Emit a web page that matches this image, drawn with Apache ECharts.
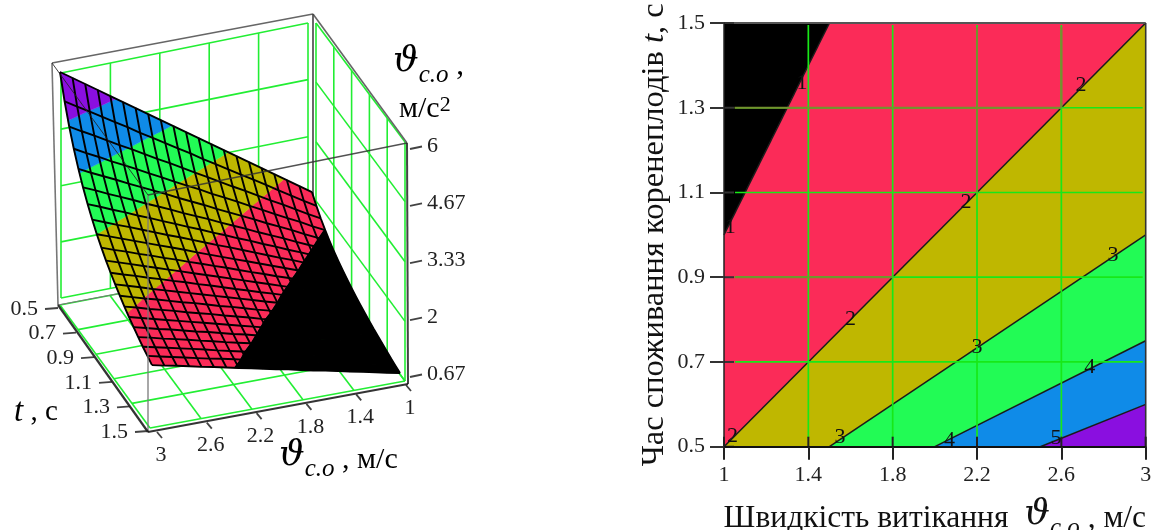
<!DOCTYPE html>
<html><head><meta charset="utf-8">
<style>html,body{margin:0;padding:0;background:#fff}#c{width:1157px;height:530px}</style>
<script src="https://cdn.jsdelivr.net/npm/echarts@6/dist/echarts.min.js"></script>
</head><body><div id="c"></div>
<script>
// ---------- data ----------
const vTicks = [1, 1.4, 1.8, 2.2, 2.6, 3];
const tTicks = [0.5, 0.7, 0.9, 1.1, 1.3, 1.5];
const zTicks = [0.67, 2, 3.33, 4.67, 6];
const bandLevels = [0.6, 1.56, 2.44, 3.33, 4.22, 5.11, 6.01];
const meshV = [1,1.1,1.2,1.3,1.4,1.5,1.6,1.7,1.8,1.9,2,2.1,2.2,2.3,2.4,2.5,2.6,2.7,2.8,2.9,3];
const meshT = [0.5,0.55,0.6,0.65,0.7,0.75,0.8,0.85,0.9,0.95,1,1.05,1.1,1.15,1.2,1.25,1.3,1.35,1.4,1.45,1.5];
const meshZ = [
[2.00,2.20,2.40,2.60,2.80,3.00,3.20,3.40,3.60,3.80,4.00,4.20,4.40,4.60,4.80,5.00,5.20,5.40,5.60,5.80,6.00],
[1.82,2.00,2.18,2.36,2.55,2.73,2.91,3.09,3.27,3.45,3.64,3.82,4.00,4.18,4.36,4.55,4.73,4.91,5.09,5.27,5.45],
[1.67,1.83,2.00,2.17,2.33,2.50,2.67,2.83,3.00,3.17,3.33,3.50,3.67,3.83,4.00,4.17,4.33,4.50,4.67,4.83,5.00],
[1.54,1.69,1.85,2.00,2.15,2.31,2.46,2.62,2.77,2.92,3.08,3.23,3.38,3.54,3.69,3.85,4.00,4.15,4.31,4.46,4.62],
[1.43,1.57,1.71,1.86,2.00,2.14,2.29,2.43,2.57,2.71,2.86,3.00,3.14,3.29,3.43,3.57,3.71,3.86,4.00,4.14,4.29],
[1.33,1.47,1.60,1.73,1.87,2.00,2.13,2.27,2.40,2.53,2.67,2.80,2.93,3.07,3.20,3.33,3.47,3.60,3.73,3.87,4.00],
[1.25,1.38,1.50,1.63,1.75,1.88,2.00,2.13,2.25,2.38,2.50,2.63,2.75,2.88,3.00,3.13,3.25,3.38,3.50,3.63,3.75],
[1.18,1.29,1.41,1.53,1.65,1.76,1.88,2.00,2.12,2.24,2.35,2.47,2.59,2.71,2.82,2.94,3.06,3.18,3.29,3.41,3.53],
[1.11,1.22,1.33,1.44,1.56,1.67,1.78,1.89,2.00,2.11,2.22,2.33,2.44,2.56,2.67,2.78,2.89,3.00,3.11,3.22,3.33],
[1.05,1.16,1.26,1.37,1.47,1.58,1.68,1.79,1.89,2.00,2.11,2.21,2.32,2.42,2.53,2.63,2.74,2.84,2.95,3.05,3.16],
[1.00,1.10,1.20,1.30,1.40,1.50,1.60,1.70,1.80,1.90,2.00,2.10,2.20,2.30,2.40,2.50,2.60,2.70,2.80,2.90,3.00],
[0.95,1.05,1.14,1.24,1.33,1.43,1.52,1.62,1.71,1.81,1.90,2.00,2.10,2.19,2.29,2.38,2.48,2.57,2.67,2.76,2.86],
[0.91,1.00,1.09,1.18,1.27,1.36,1.45,1.55,1.64,1.73,1.82,1.91,2.00,2.09,2.18,2.27,2.36,2.45,2.55,2.64,2.73],
[0.87,0.96,1.04,1.13,1.22,1.30,1.39,1.48,1.57,1.65,1.74,1.83,1.91,2.00,2.09,2.17,2.26,2.35,2.43,2.52,2.61],
[0.83,0.92,1.00,1.08,1.17,1.25,1.33,1.42,1.50,1.58,1.67,1.75,1.83,1.92,2.00,2.08,2.17,2.25,2.33,2.42,2.50],
[0.80,0.88,0.96,1.04,1.12,1.20,1.28,1.36,1.44,1.52,1.60,1.68,1.76,1.84,1.92,2.00,2.08,2.16,2.24,2.32,2.40],
[0.77,0.85,0.92,1.00,1.08,1.15,1.23,1.31,1.38,1.46,1.54,1.62,1.69,1.77,1.85,1.92,2.00,2.08,2.15,2.23,2.31],
[0.74,0.81,0.89,0.96,1.04,1.11,1.19,1.26,1.33,1.41,1.48,1.56,1.63,1.70,1.78,1.85,1.93,2.00,2.07,2.15,2.22],
[0.71,0.79,0.86,0.93,1.00,1.07,1.14,1.21,1.29,1.36,1.43,1.50,1.57,1.64,1.71,1.79,1.86,1.93,2.00,2.07,2.14],
[0.69,0.76,0.83,0.90,0.97,1.03,1.10,1.17,1.24,1.31,1.38,1.45,1.52,1.59,1.66,1.72,1.79,1.86,1.93,2.00,2.07],
[0.67,0.73,0.80,0.87,0.93,1.00,1.07,1.13,1.20,1.27,1.33,1.40,1.47,1.53,1.60,1.67,1.73,1.80,1.87,1.93,2.00]
];
// contour regions of the right panel, [v, t] vertices
const regionBlack  = [[1,1],[1.5,1.5],[1,1.5]];
const regionRed    = [[1,0.5],[3,1.5],[1.5,1.5],[1,1]];
const regionOlive  = [[1,0.5],[1.5,0.5],[3,1],[3,1.5]];
const regionGreen  = [[1.5,0.5],[2,0.5],[3,0.75],[3,1]];
const regionBlue   = [[2,0.5],[2.5,0.5],[3,0.6],[3,0.75]];
const regionViolet = [[2.5,0.5],[3,0.5],[3,0.6]];
const contourLines = [
  [[1,1],[1.5,1.5]], [[1,0.5],[3,1.5]], [[1.5,0.5],[3,1]], [[2,0.5],[3,0.75]], [[2.5,0.5],[3,0.6]]
];
const contourLabels = [
  [1.04,0.525,'2'],[1.55,0.523,'3'],[2.07,0.516,'4'],[2.575,0.52,'5'],[2.735,0.688,'4'],
  [2.2,0.735,'3'],[2.845,0.952,'3'],[1.6,0.8,'2'],[2.148,1.077,'2'],[2.693,1.354,'2'],
  [1.37,1.358,'1'],[1.03,1.018,'1']
];
const dimGridSegments = [
  [[1.05,1.3],[2.6,1.3]], [[1.05,0.9],[1.8,0.9]], [[2.2,1.49],[2.2,1.1]], [[2.6,1.49],[2.6,1.3]]
];

// ---------- styling ----------
const SERIF = '"Liberation Serif","Times New Roman",serif';
const COL = {black:'#000000', red:'#fb2b58', olive:'#bfb700', green:'#22fb55', blue:'#0f8be8', violet:'#8a0fe0'};
const bandColors = [COL.black, COL.red, COL.olive, COL.green, COL.blue, COL.violet];
const GRID = '#22ee33', GRID_R = '#18e818', GRID_DIM = '#74922e';
const lbl = {fontFamily:SERIF, fontSize:22, color:'#222'};

// ---------- oblique view of the left panel (view units = pixels of grid 0) ----------
const lerp = (a,b,k)=>[a[0]+(b[0]-a[0])*k, a[1]+(b[1]-a[1])*k];
const bil = (c,u,w)=>lerp(lerp(c.D,c.C,u), lerp(c.B,c.A,u), w);
const uOf = v=>(v-1)/2, wOf = t=>(t-0.5), zOf = z=>(z-0.67)/5.33;
const surfFrame = {A:[152,421],B:[400,373],C:[60,296],D:[312,248]};
const surfP = (v,t,z)=>{const p=bil(surfFrame,uOf(v),wOf(t)); return [p[0],p[1]-zOf(z)*224];};
// green planes
const floorG = {A:[150,428],B:[405,381],C:[60,305],D:[310,257]};
const backG  = {TL:[61,73],TR:[308,23],BL:[61,298],BR:[308,250]};
const rightG = {TL:[316,23],TR:[405,142],BL:[316,260],BR:[405,381]};
const segs = [];   // {a,b,color,width}
const seg = (a,b,color,width,over)=>segs.push({a,b,color,width,over});
vTicks.forEach(v=>{const u=uOf(v);
  seg(bil(floorG,u,0),bil(floorG,u,1),GRID,1.6);
  seg(lerp(backG.TR,backG.TL,u),lerp(backG.BR,backG.BL,u),GRID,1.6);
});
tTicks.forEach(t=>{const w=wOf(t);
  seg(bil(floorG,0,w),bil(floorG,1,w),GRID,1.6);
  seg(lerp(rightG.TL,rightG.TR,w),lerp(rightG.BL,rightG.BR,w),GRID,1.6);
});
zTicks.forEach(z=>{const k=zOf(z);
  seg(lerp(backG.BL,backG.TL,k),lerp(backG.BR,backG.TR,k),GRID,1.6);
  seg(lerp(rightG.BL,rightG.TL,k),lerp(rightG.BR,rightG.TR,k),GRID,1.6);
});
// box edges
const bx = {A:[148,432],B:[408,384],C:[58,305],D:[313,257],A1:[148,195],B1:[407,143],C1:[52,63],D1:[313,14]};
seg(bx.C1,bx.D1,'#666',1.6); seg(bx.D1,bx.B1,'#666',1.6); seg(bx.C1,bx.C,'#777',1.6);
seg(bx.D1,bx.D,'#444',1.6); seg(bx.C,bx.D,'#777',1.2);
seg(bx.A,bx.A1,'#777',1.5,true);
seg(bx.A1,bx.B1,'#333',1.3,true); seg(bx.A1,bx.C1,'#222',1,true);
seg(bx.B1,bx.B,'#222',2,true); seg(bx.A,bx.B,'#111',2.2,true); seg(bx.A,bx.C,'#111',2.2,true);
// ticks + tick labels of the left panel
const texts = [];
const tAxis=[[58,308],[148,431]], vAxis=[[157,432],[406,385]], zAxis=[[410,377],[410,149]];
tTicks.forEach(t=>{const p=lerp(tAxis[0],tAxis[1],wOf(t));
  seg(p,[p[0]-13,p[1]+1],'#222',1.8,true);
  texts.push({p:[p[0]-20,p[1]+1],s:t.toFixed(1),align:'right'});
});
vTicks.forEach(v=>{const p=lerp(vAxis[1],vAxis[0],(v-1)/2);
  seg(p,[p[0]+5,p[1]+6],'#222',1.8,true);
  texts.push({p:[p[0]+4,p[1]+23],s:String(v),align:'center'});
});
zTicks.forEach(z=>{const p=lerp(zAxis[0],zAxis[1],zOf(z));
  seg(p,[p[0]+12,p[1]-2.5],'#222',1.8,true);
  texts.push({p:[p[0]+17,p[1]-3],s:String(z),align:'left'});
});
// colour bands on the surface, each mesh cell cut at the band levels
function clip(poly,level,keepAbove){
  const out=[];
  for(let i=0;i<poly.length;i++){
    const a=poly[i],b=poly[(i+1)%poly.length];
    const ia=keepAbove?a[2]>=level:a[2]<=level, ib=keepAbove?b[2]>=level:b[2]<=level;
    if(ia) out.push(a);
    if(ia!==ib){const k=(level-a[2])/(b[2]-a[2]);
      out.push([a[0]+(b[0]-a[0])*k,a[1]+(b[1]-a[1])*k,level]);}
  }
  return out;
}
const surfPolys=[];
for(let j=0;j<meshT.length-1;j++)for(let i=0;i<meshV.length-1;i++){
  const q=[[meshV[i],meshT[j],meshZ[j][i]],[meshV[i+1],meshT[j],meshZ[j][i+1]],
           [meshV[i+1],meshT[j+1],meshZ[j+1][i+1]],[meshV[i],meshT[j+1],meshZ[j+1][i]]];
  for(let b=0;b<bandColors.length;b++){
    let p=clip(q,bandLevels[b],true); if(p.length<3)continue;
    p=clip(p,bandLevels[b+1],false); if(p.length<3)continue;
    surfPolys.push({pts:p.map(r=>surfP(r[0],r[1],r[2])),color:bandColors[b]});
  }
}
const meshLines=[];
meshT.forEach((t,j)=>meshLines.push(meshV.map((v,i)=>surfP(v,t,meshZ[j][i]))));
meshV.forEach((v,i)=>meshLines.push(meshT.map((t,j)=>surfP(v,t,meshZ[j][i]))));

const idx = a=>a.map((_,i)=>[i]);
const mapPts=(api,pts)=>pts.map(p=>api.coord(p));
const leftAxisBase={gridIndex:0,type:'value',show:false};
const regions=[[regionBlack,COL.black],[regionRed,COL.red],[regionOlive,COL.olive],[regionGreen,COL.green],[regionBlue,COL.blue],[regionViolet,COL.violet]];
const frameR=[[[1,1.5],[3,1.5]],[[3,1.5],[3,0.5]]];
const scr=(extra)=>Object.assign({fontFamily:SERIF,color:'#111'},extra);
const theta=(size,sub,n)=>({
  th:scr({fontSize:size,fontStyle:'italic',fontFamily:'"DejaVu Serif"',padding:[0,0,8,0]}),
  sb:scr({fontSize:sub,fontStyle:'italic',verticalAlign:'bottom'}),
  n:scr({fontSize:n})
});

const option={
  animation:false, backgroundColor:'#fff',
  grid:[{left:0,top:0,width:480,height:530,show:false,outerBoundsMode:'none'},
        {left:724,top:23,width:421.7,height:423.7,show:false,outerBoundsMode:'none'}],
  xAxis:[Object.assign({min:0,max:480},leftAxisBase),
    {gridIndex:1,type:'value',min:1,max:3,z:10,splitLine:{show:false},
     axisLine:{lineStyle:{color:'#111',width:2}},
     axisTick:{customValues:vTicks,length:13,lineStyle:{color:'#222',width:2}},
     axisLabel:Object.assign({customValues:vTicks,margin:18,formatter:v=>String(v)},lbl),
     name:'{n|Швидкість витікання  }{th|ϑ}{sb|c.o}{n| , м/с}',nameLocation:'middle',nameGap:50,
     nameTextStyle:{rich:theta(36,25,31.5)}}],
  yAxis:[Object.assign({min:0,max:530,inverse:true},leftAxisBase),
    {gridIndex:1,type:'value',min:0.5,max:1.5,z:10,splitLine:{show:false},
     axisLine:{lineStyle:{color:'#222',width:1.5}},
     axisTick:{customValues:tTicks,length:14,lineStyle:{color:'#333',width:2}},
     axisLabel:Object.assign({customValues:tTicks,margin:19,formatter:v=>v.toFixed(1)},lbl),
     name:'{n|Час споживання коренеплодів }{i|t}{n|, с}',nameLocation:'middle',nameGap:53,nameRotate:90,
     nameTextStyle:{rich:{n:scr({fontSize:32.5}),i:scr({fontSize:32.5,fontStyle:'italic'})}}}],
  series:[
   // left: walls and floor
   {type:'custom',xAxisIndex:0,yAxisIndex:0,z:2,silent:true,clip:false,data:idx(segs.filter(s=>!s.over)),
    renderItem:(p,api)=>{const s=segs.filter(x=>!x.over)[p.dataIndex];const a=api.coord(s.a),b=api.coord(s.b);
      return {type:'line',shape:{x1:a[0],y1:a[1],x2:b[0],y2:b[1]},style:{stroke:s.color,lineWidth:s.width}};}},
   // left: surface bands
   {type:'custom',xAxisIndex:0,yAxisIndex:0,z:3,silent:true,clip:false,data:idx(surfPolys),
    renderItem:(p,api)=>{const s=surfPolys[p.dataIndex];
      return {type:'polygon',shape:{points:mapPts(api,s.pts)},style:{fill:s.color,stroke:s.color,lineWidth:0.4}};}},
   // left: surface mesh
   {type:'custom',xAxisIndex:0,yAxisIndex:0,z:4,silent:true,clip:false,data:idx(meshLines),
    renderItem:(p,api)=>({type:'polyline',shape:{points:mapPts(api,meshLines[p.dataIndex])},style:{stroke:'#000',lineWidth:1.9,fill:null}})},
   // left: front edges and ticks
   {type:'custom',xAxisIndex:0,yAxisIndex:0,z:5,silent:true,clip:false,data:idx(segs.filter(s=>s.over)),
    renderItem:(p,api)=>{const s=segs.filter(x=>x.over)[p.dataIndex];const a=api.coord(s.a),b=api.coord(s.b);
      return {type:'line',shape:{x1:a[0],y1:a[1],x2:b[0],y2:b[1]},style:{stroke:s.color,lineWidth:s.width,opacity:0.85}};}},
   // left: tick labels
   {type:'custom',xAxisIndex:0,yAxisIndex:0,z:6,silent:true,clip:false,data:idx(texts),
    renderItem:(p,api)=>{const s=texts[p.dataIndex];const a=api.coord(s.p);
      return {type:'text',x:a[0],y:a[1],style:{text:s.s,align:s.align,verticalAlign:'middle',font:'22px '+SERIF,fill:'#222'}};}},
   // right: regions
   {type:'custom',xAxisIndex:1,yAxisIndex:1,z:2,silent:true,data:idx(regions),
    renderItem:(p,api)=>{const r=regions[p.dataIndex];
      return {type:'polygon',shape:{points:mapPts(api,r[0])},style:{fill:r[1]}};}},
   // right: contour lines
   {type:'custom',xAxisIndex:1,yAxisIndex:1,z:3,silent:true,data:idx(contourLines),
    renderItem:(p,api)=>{const c=contourLines[p.dataIndex];
      return {type:'polyline',shape:{points:mapPts(api,c)},style:{stroke:'#1a1a1a',lineWidth:1.5,fill:null}};}},
   // right: green grid, starting a little inside the frame
   {type:'custom',xAxisIndex:1,yAxisIndex:1,z:4,silent:true,data:idx(vTicks.slice(1,-1).concat(tTicks.slice(1,-1))),
    renderItem:(p,api)=>{const n=vTicks.length-2,i=p.dataIndex;
      if(i<n){const v=vTicks[i+1],a=api.coord([v,1.5]),b=api.coord([v,0.5]);
        return {type:'line',shape:{x1:a[0],y1:a[1]+2,x2:b[0],y2:b[1]-9},style:{stroke:GRID_R,lineWidth:1.7}};}
      const t=tTicks[i-n+1],a=api.coord([1,t]),b=api.coord([3,t]);
      return {type:'line',shape:{x1:a[0]+11,y1:a[1],x2:b[0]-3,y2:b[1]},style:{stroke:GRID_R,lineWidth:1.7}};}},
   {type:'custom',xAxisIndex:1,yAxisIndex:1,z:4,silent:true,data:idx(dimGridSegments),
    renderItem:(p,api)=>({type:'polyline',shape:{points:mapPts(api,dimGridSegments[p.dataIndex])},style:{stroke:GRID_DIM,lineWidth:1.9,fill:null}})},
   // right: frame and inner tick parts
   {type:'custom',xAxisIndex:1,yAxisIndex:1,z:5,silent:true,clip:false,data:idx(frameR),
    renderItem:(p,api)=>({type:'polyline',shape:{points:mapPts(api,frameR[p.dataIndex])},style:{stroke:p.dataIndex?'#333':'#555',lineWidth:p.dataIndex?1.6:1.8,fill:null}})},
   {type:'custom',xAxisIndex:1,yAxisIndex:1,z:6,silent:true,clip:false,data:idx(vTicks.concat(tTicks)),
    renderItem:(p,api)=>{const n=vTicks.length,i=p.dataIndex;
      if(i<n){const a=api.coord([vTicks[i],0.5]);return {type:'line',shape:{x1:a[0],y1:a[1],x2:a[0],y2:a[1]-10},style:{stroke:'#222',lineWidth:2}};}
      const a=api.coord([1,tTicks[i-n]]);return {type:'line',shape:{x1:a[0],y1:a[1],x2:a[0]+10,y2:a[1]},style:{stroke:'#333',lineWidth:2}};}},
   // right: contour labels
   {type:'custom',xAxisIndex:1,yAxisIndex:1,z:7,silent:true,clip:false,data:idx(contourLabels),
    renderItem:(p,api)=>{const c=contourLabels[p.dataIndex],a=api.coord([c[0],c[1]]);
      return {type:'text',x:a[0],y:a[1],style:{text:c[2],align:'center',verticalAlign:'middle',font:'22px '+SERIF,fill:'#111'}};}}
  ],
  graphic:[
   {type:'text',left:393,top:44,z:20,style:{text:'{th|ϑ}{sb|c.o}{n| ,}',rich:theta(36,25,31)}},
   {type:'text',left:399,top:94,z:20,style:{text:'{n|м/с}{s|2}',rich:{n:scr({fontSize:30}),s:scr({fontSize:22,verticalAlign:'top'})}}},
   {type:'text',left:14,top:396,z:20,style:{text:'{i|t}{n| , с}',rich:{i:scr({fontSize:33,fontStyle:'italic'}),n:scr({fontSize:29})}}},
   {type:'text',left:279,top:438,z:20,style:{text:'{th|ϑ}{sb|c.o}{n| , м/с}',rich:theta(36,25,30)}}
  ]
};
const chart=echarts.init(document.getElementById('c'),null,{renderer:'canvas'});
chart.setOption(option);
</script></body></html>
